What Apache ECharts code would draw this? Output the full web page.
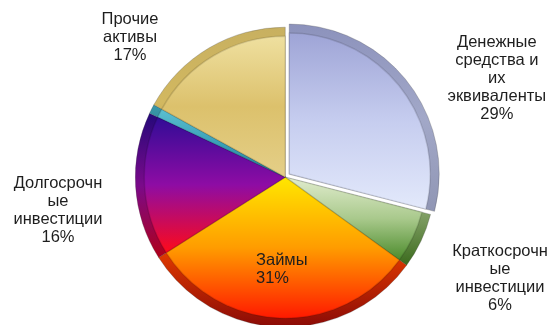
<!DOCTYPE html>
<html>
<head>
<meta charset="utf-8">
<script src="https://cdn.jsdelivr.net/npm/echarts@6/dist/echarts.min.js"></script>
<style>
  html, body { margin: 0; padding: 0; background: #fff; }
  #chart { width: 555px; height: 325px; }
</style>
</head>
<body>
<div id="chart"></div>
<script>
// Asset structure, share of total
const categories = [
  'Денежные средства и их эквиваленты',
  'Краткосрочные инвестиции',
  'Займы',
  'Долгосрочные инвестиции',
  'Прочее',
  'Прочие активы'
];
const values = [29, 6, 31, 16, 1, 17];
// Wrapped label captions (empty = no caption)
const captions = [
  'Денежные\nсредства и\nих\nэквиваленты',
  'Краткосрочн\nые\nинвестиции',
  'Займы',
  'Долгосрочн\nые\nинвестиции',
  '',
  'Прочие\nактивы'
];

// Face gradients (top -> bottom) and rim gradients per slice
const faceStops = [
  ['#9ea4d6', '#c6cdef', '#e3e9fb'],
  ['#e2edcf', '#a9c98c', '#4a8a2a'],
  ['#ffe800', '#ff9c00', '#ff1800'],
  ['#300c96', '#8e0ca4', '#ff0a18'],
  ['#5cc0d0', '#3aa0b8', '#2a8098'],
  ['#efe0a0', '#dcc16c', '#e4cf88']
];
const rimStops = [
  ['#8c92bc', '#a2a8c8', '#9096b4'],
  ['#a8bf90', '#78985c', '#3a6a1c'],
  ['#f0a000', '#e03a00', '#8a0a06'],
  ['#24087a', '#7a0a8a', '#b00018'],
  ['#3a98a8', '#2a8098', '#206878'],
  ['#c8b060', '#d2b860', '#b89a48']
];

// Caption anchor points (px): horizontal centre / left edge, vertical middle
const captionPos = [
  { x: 498, y: 82, align: 'center' },
  { x: 500, y: 278, align: 'center' },
  { x: 256, y: 269, align: 'left' },
  { x: 58, y: 210, align: 'center' },
  null,
  { x: 130, y: 37, align: 'center' }
];

function grad(stops) {
  return new echarts.graphic.LinearGradient(0, 0, 0, 1, [
    { offset: 0, color: stops[0] },
    { offset: 0.5, color: stops[1] },
    { offset: 1, color: stops[2] }
  ]);
}

const rimData = categories.map((name, i) => ({
  name, value: values[i], selected: i === 0,
  itemStyle: { color: grad(rimStops[i]) }
}));
const faceData = categories.map((name, i) => ({
  name, value: values[i], selected: i === 0,
  itemStyle: {
    color: grad(faceStops[i]),
    borderColor: 'rgba(0,0,0,0.12)',
    borderWidth: 1.5
  }
}));

const textStyle = {
  fontFamily: 'Liberation Sans, Arial, sans-serif',
  fontSize: 16.5,
  lineHeight: 18,
  color: '#1e1e1e'
};

const chart = echarts.init(document.getElementById('chart'), null, { renderer: 'canvas' });
const center = ['51.4%', '54.5%'];
chart.setOption({
  animation: false,
  series: [
    {
      type: 'pie',
      center, radius: 150,
      startAngle: 90, clockwise: true,
      selectedMode: 'single', selectedOffset: 5,
      label: { show: false }, labelLine: { show: false },
      emphasis: { disabled: true },
      itemStyle: { borderColor: 'rgba(60,60,60,0.25)', borderWidth: 1 },
      data: rimData
    },
    {
      type: 'pie',
      center, radius: 141,
      startAngle: 90, clockwise: true,
      selectedMode: 'single', selectedOffset: 5,
      emphasis: { disabled: true },
      avoidLabelOverlap: false,
      labelLine: { show: false },
      label: Object.assign({
        show: true,
        position: 'outside',
        alignTo: 'none',
        overflow: 'none',
        rich: {
          c: Object.assign({ align: 'center' }, textStyle),
          l: Object.assign({ align: 'left' }, textStyle)
        },
        // each caption line is a rich token so lines centre inside the block
        formatter: p => {
          const c = captionPos[p.dataIndex];
          if (!c) return '';
          const tag = c.align === 'center' ? 'c' : 'l';
          const lines = (captions[p.dataIndex] + '\n' + Math.round(p.percent) + '%').split('\n');
          return lines.map(s => '{' + tag + '|' + s + '}').join('\n');
        }
      }, textStyle),
      // Place every caption by its left edge so alignment does not depend on slice state
      labelLayout: p => {
        const c = captionPos[p.dataIndex];
        if (!c) return {};
        const w = p.labelRect.width;
        const left = c.align === 'center' ? c.x - w / 2 : c.x;
        return { x: left, y: c.y, align: 'left', verticalAlign: 'middle' };
      },
      data: faceData
    }
  ]
});
</script>
</body>
</html>
